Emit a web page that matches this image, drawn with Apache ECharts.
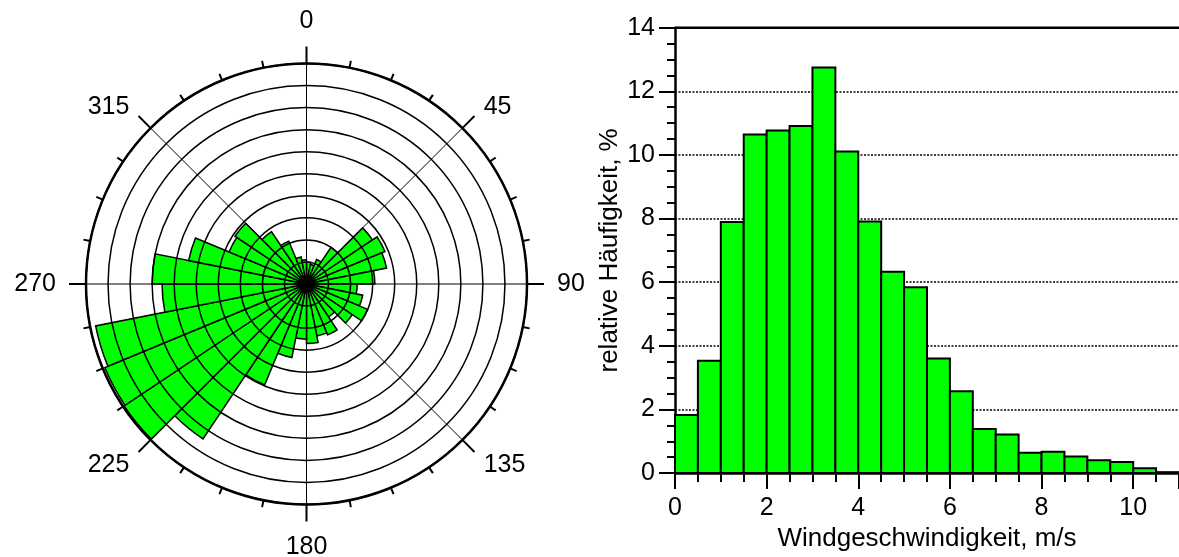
<!DOCTYPE html>
<html>
<head>
<meta charset="utf-8">
<script src="https://cdn.jsdelivr.net/npm/echarts@6/dist/echarts.min.js"></script>
<style>
  html, body { margin: 0; padding: 0; background: #fff; }
  #chart { width: 1179px; height: 557px; }
</style>
</head>
<body>
<div id="chart"></div>
<script>
// Wind direction sectors (11.25° each, clockwise from north), relative length in ring units
const directionSectors = Array.from({ length: 32 }, (_, i) => String(i * 11.25));
const directionValues = [
  1.0, 0.9, 1.2, 2.0,
  3.6, 3.85, 3.7, 3.1,
  2.3, 2.6, 3.0, 2.5,
  1.8, 2.5, 2.4, 2.7,
  2.5, 3.4, 4.95, 8.45,
  9.95, 9.9, 9.75, 6.55,
  7.0, 5.45, 3.8, 3.9,
  2.85, 2.1, 1.25, 1.1
];

// Wind speed histogram: bins of 0.5 m/s starting at 0
const speedBinStarts = [0, 0.5, 1, 1.5, 2, 2.5, 3, 3.5, 4, 4.5, 5, 5.5, 6, 6.5, 7, 7.5, 8, 8.5, 9, 9.5, 10, 10.5];
const speedFreq = [1.83, 3.53, 7.89, 10.64, 10.77, 10.91, 12.75, 10.11, 7.91, 6.33, 5.84, 3.60, 2.57, 1.39, 1.21, 0.64, 0.67, 0.52, 0.40, 0.35, 0.15, 0.03];
const binWidth = 0.5;

const FONT = 'Liberation Sans, Arial, sans-serif';
const GREEN = '#00ff00';

const polarCenter = [306.5, 284];
const polarRadius = 220.5;

const chart = echarts.init(document.getElementById('chart'), null, { renderer: 'canvas' });

// histogram bars as rectangles on value axes
function renderBin(params, api) {
  const x0 = api.value(0);
  const v = api.value(1);
  const p0 = api.coord([x0, 0]);
  const p1 = api.coord([x0 + binWidth, v]);
  return {
    type: 'rect',
    shape: { x: p0[0], y: p1[1], width: p1[0] - p0[0], height: p0[1] - p1[1] },
    style: { fill: GREEN, stroke: '#000', lineWidth: 2 }
  };
}

const option = {
  animation: false,
  backgroundColor: '#fff',
  textStyle: { fontFamily: FONT },
  polar: [
    { center: polarCenter, radius: polarRadius },
    { center: polarCenter, radius: polarRadius }
  ],
  angleAxis: [
    {
      polarIndex: 0,
      type: 'category',
      data: directionSectors,
      startAngle: 90,
      clockwise: true,
      boundaryGap: true,
      axisLine: { show: false },
      axisTick: { show: false },
      axisLabel: { show: false },
      splitLine: { show: false }
    },
    {
      polarIndex: 1,
      type: 'value',
      min: 0,
      max: 360,
      interval: 45,
      startAngle: 90,
      clockwise: true,
      z: 6,
      axisLine: { show: true, lineStyle: { color: '#000', width: 2.5 } },
      axisTick: { show: true, length: 17, lineStyle: { color: '#000', width: 2 } },
      minorTick: { show: true, splitNumber: 4, length: 7, lineStyle: { color: '#000', width: 2 } },
      splitLine: { show: true, lineStyle: { color: '#000', width: 1 } },
      axisLabel: {
        show: true,
        margin: 30,
        fontSize: 25,
        color: '#000',
        fontFamily: FONT,
        formatter: function (v) {
          if (v === 360) return '';
          if (v === 45 || v === 315) return '{up|' + v + '}';
          if (v === 135 || v === 225) return '{dn|' + v + '}';
          return String(v);
        },
        rich: {
          up: { fontSize: 25, lineHeight: 0, fontFamily: FONT, color: '#000' },
          dn: { fontSize: 25, lineHeight: 8, fontFamily: FONT, color: '#000' }
        }
      }
    }
  ],
  radiusAxis: [
    {
      polarIndex: 0,
      type: 'value',
      min: 0,
      max: 10,
      interval: 1,
      z: 5,
      axisLine: { show: false },
      axisTick: { show: false },
      axisLabel: { show: false },
      splitLine: { show: true, lineStyle: { color: '#000', width: 1.5 } }
    },
    {
      polarIndex: 1,
      type: 'value',
      min: 0,
      max: 10,
      axisLine: { show: false },
      axisTick: { show: false },
      axisLabel: { show: false },
      splitLine: { show: false }
    }
  ],
  grid: {
    left: 675,
    top: 27.7,
    width: 506,
    height: 454.3,
    containLabel: false
  },
  xAxis: {
    type: 'value',
    min: 0,
    max: 11,
    interval: 2,
    axisLine: { show: true, onZero: false, lineStyle: { color: '#000', width: 2.5 } },
    axisTick: { show: true, length: 16, lineStyle: { color: '#000', width: 2 } },
    minorTick: { show: true, splitNumber: 4, length: 9, lineStyle: { color: '#000', width: 2 } },
    splitLine: { show: false },
    axisLabel: { fontSize: 25, color: '#000', margin: 23, fontFamily: FONT, showMaxLabel: false },
    name: 'Windgeschwindigkeit, m/s',
    nameLocation: 'middle',
    nameGap: 49,
    nameTextStyle: { fontSize: 26, color: '#000', fontFamily: FONT, align: 'center' }
  },
  yAxis: {
    type: 'value',
    min: 0,
    max: 14,
    interval: 2,
    axisLine: { show: true, lineStyle: { color: '#000', width: 2.5 } },
    axisTick: { show: true, length: 16, lineStyle: { color: '#000', width: 2 } },
    minorTick: { show: true, splitNumber: 4, length: 8, lineStyle: { color: '#000', width: 2 } },
    splitLine: { show: true, lineStyle: { color: '#000', width: 1.5, type: [2, 1.5] } },
    axisLabel: { fontSize: 25, color: '#000', margin: 20, fontFamily: FONT },
    name: 'relative Häufigkeit, %',
    nameLocation: 'middle',
    nameGap: 46,
    nameTextStyle: { fontSize: 26, color: '#000', fontFamily: FONT }
  },
  series: [
    {
      type: 'bar',
      coordinateSystem: 'polar',
      polarIndex: 0,
      data: directionValues,
      barCategoryGap: '0%',
      barWidth: '100%',
      itemStyle: { color: GREEN, borderColor: '#000', borderWidth: 1.5 },
      z: 2
    },
    {
      type: 'custom',
      xAxisIndex: 0,
      yAxisIndex: 0,
      renderItem: renderBin,
      encode: { x: 0, y: 1 },
      data: speedBinStarts.map((s, i) => [s, speedFreq[i]]),
      z: 3
    }
  ],
  graphic: [
    {
      // top frame line of the histogram
      type: 'line',
      shape: { x1: 675, y1: 27.7, x2: 1179, y2: 27.7 },
      style: { stroke: '#000', lineWidth: 2.5 },
      z: 10
    }
  ]
};

chart.setOption(option);
</script>
</body>
</html>
